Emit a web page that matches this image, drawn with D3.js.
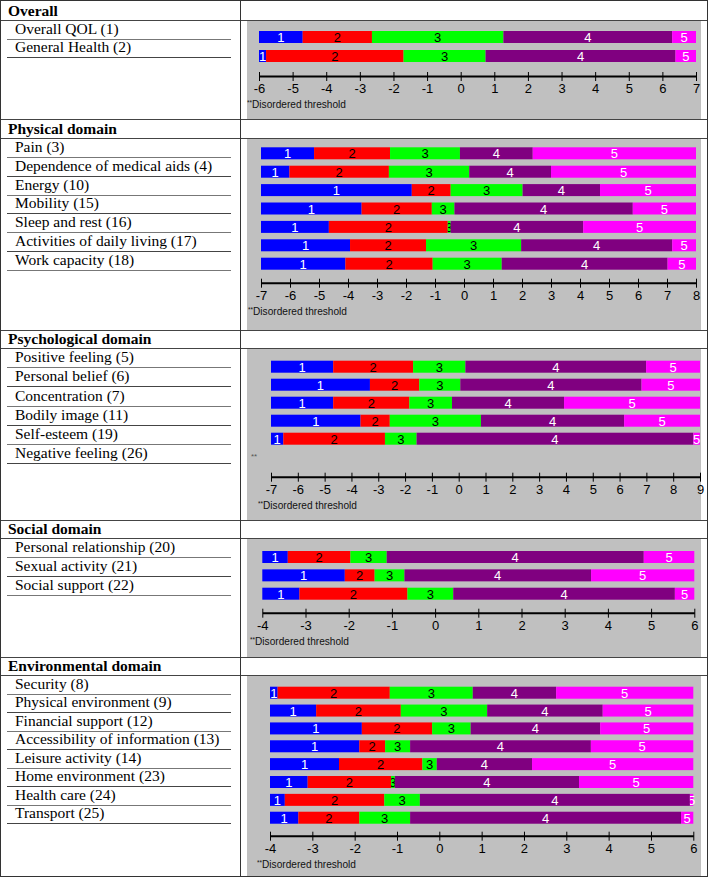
<!DOCTYPE html>
<html>
<head>
<meta charset="utf-8">
<script src="https://cdn.jsdelivr.net/npm/d3@7/dist/d3.min.js"></script>
<style>
  html, body { margin: 0; padding: 0; background: #fff; }
  svg { display: block; }
</style>
</head>
<body>
<div id="chart"></div>
<script>
// ---------------- DATA ----------------
const sectionNames = ["Overall", "Physical domain", "Psychological domain", "Social domain", "Environmental domain"];

const overallItems = ["Overall QOL (1)", "General Health (2)"];
const overallThresholds = [
  [-4.70, -2.64, 1.27, 6.29],
  [-5.79, -1.70, 0.74, 6.39]
];
const overallAxis = [-6, 7];

const physicalItems = ["Pain (3)", "Dependence of medical aids (4)", "Energy (10)", "Mobility (15)",
  "Sleep and rest (16)", "Activities of daily living (17)", "Work capacity (18)"];
const physicalThresholds = [
  [-5.17, -2.55, -0.14, 2.37],
  [-6.02, -2.59, 0.18, 3.00],
  [-1.80, -0.46, 2.02, 4.69],
  [-3.53, -1.11, -0.33, 5.82],
  [-4.66, -0.56, -0.46, 4.11],
  [-3.93, -1.31, 1.97, 7.18],
  [-4.09, -1.08, 1.30, 7.02]
];
const physicalAxis = [-7, 8];

const psychItems = ["Positive feeling (5)", "Personal belief (6)", "Concentration (7)", "Bodily image (11)",
  "Self\u2010esteem (19)", "Negative feeling (26)"];
const psychThresholds = [
  [-4.68, -1.70, 0.25, 6.99],
  [-3.31, -1.47, 0.06, 6.82],
  [-4.68, -1.84, -0.25, 3.93],
  [-3.66, -2.57, 0.83, 6.17],
  [-6.54, -2.75, -1.57, 8.75],
  null   // disordered threshold (**)
];
const psychAxis = [-7, 9];

const socialItems = ["Personal relationship (20)", "Sexual activity (21)", "Social support (22)"];
const socialThresholds = [
  [-3.41, -1.96, -1.12, 4.83],
  [-2.09, -1.40, -0.71, 3.61],
  [-3.14, -0.64, 0.42, 5.55]
];
const socialAxis = [-4, 6];

const envItems = ["Security (8)", "Physical environment (9)", "Financial support (12)",
  "Accessibility of information (13)", "Leisure activity (14)", "Home environment (23)",
  "Health care (24)", "Transport (25)"];
const envThresholds = [
  [-3.82, -1.17, 0.79, 2.76],
  [-2.91, -0.91, 1.13, 3.86],
  [-1.83, -0.17, 0.74, 3.80],
  [-1.89, -1.28, -0.69, 3.58],
  [-2.37, -0.40, -0.06, 2.19],
  [-3.11, -1.14, -1.05, 3.30],
  [-3.65, -1.30, -0.46, 5.92],
  [-3.33, -1.89, -0.69, 5.71]
];
const envAxis = [-4, 6];

const categoryLabels = ["1", "2", "3", "4", "5"];
const noteText = "Disordered threshold";

// ---------------- STYLE / LAYOUT ----------------
const catColors = ["#0000ff", "#ff0000", "#00ff00", "#800080", "#ff00ff"];
const catTextColors = ["#ffffff", "#000000", "#000000", "#ffffff", "#ffffff"];

const W = 709, H = 877;
const colX = 240.5;
const layout = [
  { top: 0,   head: 20,  bottom: 119, rowH: 18.5,  x0: 259,   x1: 696,   bar0: 31,    step: 19,    axisY: 76,    noteX: 247 },
  { top: 119, head: 138, bottom: 330, rowH: 18.86, x0: 261,   x1: 696,   bar0: 147.3, step: 18.4,  axisY: 282.7, noteX: 248 },
  { top: 330, head: 348, bottom: 520, rowH: 19.2,  x0: 271,   x1: 700,   bar0: 360.7, step: 18.0,  axisY: 476.7, noteX: 258, markY: 456, markX: 251 },
  { top: 520, head: 538, bottom: 657, rowH: 19,    x0: 262.3, x1: 694.3, bar0: 551,   step: 18.35, axisY: 612.7, noteX: 250 },
  { top: 657, head: 675, bottom: 876, rowH: 18.5,  x0: 270,   x1: 693.3, bar0: 686.7, step: 17.86, axisY: 835.7, noteX: 257 }
];
const sectionItems = [overallItems, physicalItems, psychItems, socialItems, envItems];
const sectionThresholds = [overallThresholds, physicalThresholds, psychThresholds, socialThresholds, envThresholds];
const sectionAxes = [overallAxis, physicalAxis, psychAxis, socialAxis, envAxis];

const barH = 12;
const serif = "'Liberation Serif', 'Times New Roman', Times, serif";
const sans = "'Liberation Sans Narrow', 'Liberation Sans', Arial, sans-serif";

const svg = d3.select("#chart").append("svg")
  .attr("width", W).attr("height", H)
  .attr("viewBox", `0 0 ${W} ${H}`);

const defs = svg.append("defs");
let clipId = 0;

sectionNames.forEach((name, si) => {
  const L = layout[si];
  const items = sectionItems[si];
  const thr = sectionThresholds[si];
  const dom = sectionAxes[si];

  // grey panel
  svg.append("rect")
    .attr("x", 247).attr("y", L.head + 1)
    .attr("width", 701 - 247).attr("height", L.bottom - L.head - 1)
    .attr("fill", "#c0c0c0");

  // header text
  svg.append("text")
    .attr("x", 8).attr("y", L.head - 4)
    .attr("font-family", serif).attr("font-size", 15.5).attr("font-weight", "bold")
    .attr("fill", "#000")
    .text(name);

  // item labels + row lines
  items.forEach((it, i) => {
    const yb = L.head + (i + 1) * L.rowH;
    svg.append("text")
      .attr("x", 15).attr("y", yb - 5)
      .attr("font-family", serif).attr("font-size", 15.5)
      .attr("fill", "#000")
      .text(it);
    svg.append("line")
      .attr("x1", 7).attr("x2", 231)
      .attr("y1", Math.round(yb) + 0.5).attr("y2", Math.round(yb) + 0.5)
      .attr("stroke", i % 2 === 0 ? "#777" : "#444").attr("stroke-width", 1);
  });

  // section lines (full width)
  svg.append("line").attr("x1", 0).attr("x2", 708)
    .attr("y1", L.head + 0.5).attr("y2", L.head + 0.5)
    .attr("stroke", "#444");
  if (L.top > 0) {
    svg.append("line").attr("x1", 0).attr("x2", 708)
      .attr("y1", L.top + 0.5).attr("y2", L.top + 0.5)
      .attr("stroke", "#444");
  }

  // scale
  const x = d3.scaleLinear().domain(dom).range([L.x0, L.x1]);

  const g = svg.append("g");
  thr.forEach((t, i) => {
    if (!t) return;
    const bounds = [dom[0], ...t, dom[1]];
    const y = L.bar0 + i * L.step;
    const segs = categoryLabels.map((c, k) => ({ k, c, a: bounds[k], b: bounds[k + 1] }));
    g.selectAll(null).data(segs).enter().append("rect")
      .attr("x", d => x(d.a)).attr("y", y)
      .attr("width", d => Math.max(0, x(d.b) - x(d.a))).attr("height", barH)
      .attr("fill", d => catColors[d.k]);
    segs.forEach(d => {
      const id = "clip" + (clipId++);
      const extra = d.k === 4 ? 8 : 0;
      defs.append("clipPath").attr("id", id).append("rect")
        .attr("x", x(d.a)).attr("y", y - 2)
        .attr("width", Math.max(0, x(d.b) - x(d.a)) + extra).attr("height", barH + 4);
      g.append("text")
        .attr("clip-path", `url(#${id})`)
        .attr("x", (x(d.a) + x(d.b)) / 2).attr("y", y + barH / 2 + 0.5)
        .attr("text-anchor", "middle").attr("dominant-baseline", "central")
        .attr("font-family", sans).attr("font-size", 13)
        .attr("fill", catTextColors[d.k])
        .text(d.c);
    });
  });

  // disordered marker for items without bars
  if (L.markY !== undefined) {
    svg.append("text").attr("x", L.markX).attr("y", L.markY + 3)
      .attr("font-family", sans).attr("font-size", 8).attr("fill", "#555")
      .text("**");
  }

  // axis
  const ticks = d3.range(dom[0], dom[1] + 1);
  const axis = d3.axisBottom(x).tickValues(ticks).tickFormat(d => String(d))
    .tickSizeOuter(0).tickSizeInner(5).tickPadding(3);
  const ag = svg.append("g").attr("transform", `translate(0,${L.axisY})`).call(axis);
  ag.select(".domain").attr("stroke", "#000").attr("stroke-width", 2);
  ag.selectAll(".tick line").attr("y1", -4).attr("y2", 5).attr("stroke", "#000");
  ag.selectAll(".tick text").attr("font-family", sans).attr("font-size", 13)
    .attr("font-weight", 300).attr("fill", "#000");

  // note
  const nt = svg.append("text").attr("x", L.noteX).attr("y", L.axisY + 32)
    .attr("font-family", sans).attr("font-size", 11).attr("fill", "#111")
    .attr("textLength", 99).attr("lengthAdjust", "spacingAndGlyphs");
  nt.append("tspan").attr("font-size", 7).attr("dy", -3).text("**");
  nt.append("tspan").attr("dy", 3).text(noteText);
});

// table borders
svg.append("rect").attr("x", 0.5).attr("y", 0.5).attr("width", 707).attr("height", 876)
  .attr("fill", "none").attr("stroke", "#333");
svg.append("line").attr("x1", colX).attr("x2", colX).attr("y1", 0).attr("y2", H)
  .attr("stroke", "#333");
</script>
</body>
</html>
